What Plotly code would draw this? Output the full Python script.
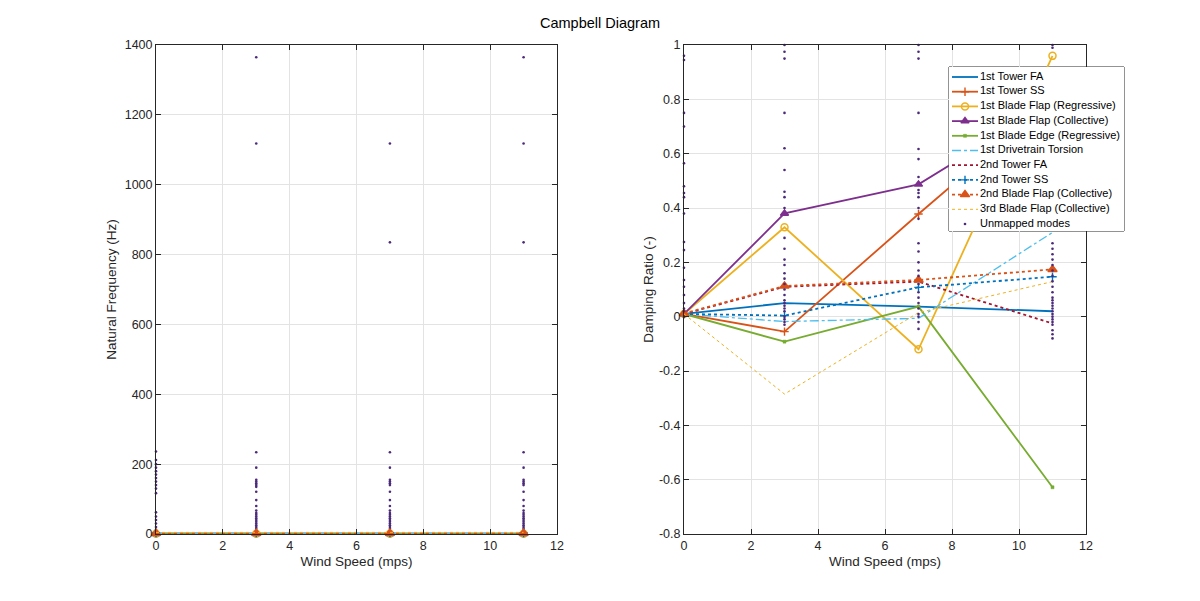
import plotly.graph_objects as go

# ---------------- data ----------------
wind_speed = [0, 3, 7, 11]

mode_names = [
    "1st Tower FA", "1st Tower SS", "1st Blade Flap (Regressive)",
    "1st Blade Flap (Collective)", "1st Blade Edge (Regressive)",
    "1st Drivetrain Torsion", "2nd Tower FA", "2nd Tower SS",
    "2nd Blade Flap (Collective)", "3rd Blade Flap (Collective)",
]
unmapped_name = "Unmapped modes"

# natural frequency (Hz) of mapped modes
freq_tower1_fa = [0.32, 0.32, 0.32, 0.32]
freq_tower1_ss = [0.31, 0.31, 0.31, 0.31]
freq_flap1_reg = [0.67, 0.66, 0.65, 0.64]
freq_flap1_col = [0.70, 0.71, 0.72, 0.74]
freq_edge1_reg = [1.08, 1.07, 1.06, 1.05]
freq_drivetrain = [1.6, 1.6, 1.6, 1.6]
freq_tower2_fa = [2.9, 2.9, 2.9, 2.9]
freq_tower2_ss = [2.9, 2.9, 2.9, 2.9]
freq_flap2_col = [1.9, 1.9, 1.95, 2.0]
freq_flap3_col = [4.5, 4.5, 4.6, 4.6]

# damping ratio (-) of mapped modes
damp_tower1_fa = [0.01, 0.05, 0.037, 0.02]
damp_tower1_ss = [0.01, -0.055, 0.378, 0.80]
damp_flap1_reg = [0.01, 0.329, -0.12, 0.96]
damp_flap1_col = [0.01, 0.38, 0.487, 0.79]
damp_edge1_reg = [0.01, -0.092, 0.037, -0.628]
damp_drivetrain = [0.01, -0.018, -0.006, 0.31]
damp_tower2_fa = [0.01, 0.11, 0.129, -0.025]
damp_tower2_ss = [0.01, 0.004, 0.108, 0.147]
damp_flap2_col = [0.012, 0.113, 0.135, 0.174]
damp_flap3_col = [0.01, -0.285, 0.015, 0.129]

# unmapped modes (per wind speed: frequency and damping)
unmapped_freq_0 = [236, 212, 200, 190, 180, 170, 160, 150, 140, 130, 117, 62, 50, 40, 30, 20, 12, 6, 3]
unmapped_damp_0 = [0.96, 0.945, 0.75, 0.70, 0.565, 0.48, 0.455, 0.44, 0.38, 0.275, 0.245, 0.18, 0.135,
                   0.11, 0.08, 0.05, 0.03, 0.02, 0.0]
unmapped_freq_3 = [1365, 1118, 234, 190, 155, 150, 145, 140, 135, 121, 97, 80, 67, 60, 55, 50, 45, 40,
                   35, 30, 25, 20, 15, 10, 6, 3, 1.5]
unmapped_damp_3 = [1.0, 0.975, 0.95, 0.75, 0.62, 0.54, 0.46, 0.44, 0.40, 0.29, 0.25, 0.21, 0.19, 0.16,
                   0.14, 0.12, 0.10, 0.08, 0.06, 0.05, 0.04, 0.02, 0.0, -0.01, -0.03, -0.02, 0.03]
unmapped_freq_7 = [1118, 835, 234, 190, 155, 150, 145, 140, 121, 97, 80, 67, 60, 55, 50, 45, 40, 35,
                   30, 25, 20, 15, 10, 6, 3, 1.5]
unmapped_damp_7 = [1.0, 0.975, 0.95, 0.75, 0.617, 0.58, 0.514, 0.466, 0.455, 0.44, 0.40, 0.36, 0.27,
                   0.24, 0.20, 0.17, 0.15, 0.12, 0.09, 0.07, 0.05, 0.03, 0.0, -0.02, -0.045, 0.01]
unmapped_freq_11 = [1365, 1118, 835, 234, 190, 155, 150, 145, 140, 121, 97, 80, 67, 60, 55, 50, 45,
                    40, 35, 30, 25, 20, 15, 10, 6, 3]
unmapped_damp_11 = [1.0, 0.99, 0.27, 0.25, 0.23, 0.21, 0.19, 0.17, 0.15, 0.13, 0.11, 0.09, 0.07, 0.06,
                    0.05, 0.04, 0.03, 0.02, 0.01, 0.0, -0.01, -0.02, -0.03, -0.05, -0.065, -0.08]

x_tick_vals = [0, 2, 4, 6, 8, 10, 12]
x_tick_text = ["0", "2", "4", "6", "8", "10", "12"]
freq_tick_vals = [0, 200, 400, 600, 800, 1000, 1200, 1400]
freq_tick_text = ["0", "200", "400", "600", "800", "1000", "1200", "1400"]
damp_tick_vals = [-0.8, -0.6, -0.4, -0.2, 0, 0.2, 0.4, 0.6, 0.8, 1]
damp_tick_text = ["-0.8", "-0.6", "-0.4", "-0.2", "0", "0.2", "0.4", "0.6", "0.8", "1"]

# ---------------- styles ----------------
freq_series = [freq_tower1_fa, freq_tower1_ss, freq_flap1_reg, freq_flap1_col, freq_edge1_reg,
               freq_drivetrain, freq_tower2_fa, freq_tower2_ss, freq_flap2_col, freq_flap3_col]
damp_series = [damp_tower1_fa, damp_tower1_ss, damp_flap1_reg, damp_flap1_col, damp_edge1_reg,
               damp_drivetrain, damp_tower2_fa, damp_tower2_ss, damp_flap2_col, damp_flap3_col]

styles = [
    dict(color="#0072BD", dash="solid", width=1.8, symbol=None),
    dict(color="#D95319", dash="solid", width=1.8, symbol="cross-thin", size=6, mlw=1.4),
    dict(color="#EDB120", dash="solid", width=1.8, symbol="circle-open", size=7, mlw=1.5),
    dict(color="#7E2F8E", dash="solid", width=1.8, symbol="triangle-up", size=7, mlw=1.5),
    dict(color="#77AC30", dash="solid", width=1.8, symbol="square", size=3, mlw=0.5),
    dict(color="#4DBEEE", dash="dashdot", width=1.3, symbol=None),
    dict(color="#A2142F", dash="dot", width=1.8, symbol=None),
    dict(color="#0072BD", dash="dot", width=1.8, symbol="cross-thin", size=6, mlw=1.4),
    dict(color="#D95319", dash="dot", width=1.8, symbol="triangle-up", size=8, mlw=1.5),
    dict(color="#EDB120", dash="dot", width=1.0, symbol=None),
]
unmapped_color = "#4B2A7B"
AX = "#262626"
GRID = "#E3E3E3"
FONT = "Liberation Sans, Arial, Helvetica, sans-serif"

fig = go.Figure()


def add_mode(x, y, st, xa, ya, marker_x=None):
    has_m = st["symbol"] is not None
    fig.add_trace(go.Scatter(
        x=x, y=y, xaxis=xa, yaxis=ya, mode="lines+markers" if (has_m and marker_x is None) else "lines",
        showlegend=False, cliponaxis=False, hoverinfo="skip" if marker_x is not None else None,
        line=dict(color=st["color"], dash=st["dash"], width=st["width"]),
        marker=dict(symbol=st["symbol"], size=st["size"], color=st["color"],
                    line=dict(color=st["color"], width=st["mlw"])) if has_m else None,
    ))
    if has_m and marker_x is not None:
        fig.add_trace(go.Scatter(
            x=[marker_x[0]], y=[marker_x[1]], xaxis=xa, yaxis=ya, mode="markers",
            showlegend=False, cliponaxis=False, hoverinfo="skip",
            marker=dict(symbol=st["symbol"], size=st["size"], color=st["color"],
                        line=dict(color=st["color"], width=st["mlw"]))))


um_groups = [(0, unmapped_freq_0, unmapped_damp_0), (3, unmapped_freq_3, unmapped_damp_3),
             (7, unmapped_freq_7, unmapped_damp_7), (11, unmapped_freq_11, unmapped_damp_11)]
um_x, um_f, um_d = [], [], []
for ws, fl, dl in um_groups:
    um_x += [ws] * len(fl)
    um_f += fl
    um_d += dl


def add_unmapped(xa, ya, yv):
    fig.add_trace(go.Scatter(
        x=um_x, y=yv, xaxis=xa, yaxis=ya, mode="markers",
        showlegend=False, cliponaxis=False,
        marker=dict(symbol="circle", size=2.6, color=unmapped_color),
    ))


# left: frequencies (unmapped dots beneath the mapped modes)
add_unmapped("x", "y", um_f)
for fs, st in zip(freq_series, styles):
    add_mode(wind_speed, fs, st, "x", "y")

# right: damping ratios
for ds, st in zip(damp_series, styles):
    add_mode(wind_speed, ds, st, "x2", "y2")
add_unmapped("x2", "y2", um_d)

# ---------------- custom legend (drawn in an auxiliary axis) ----------------
row0, row_h = 10.0, 14.7
line_x0, line_x1, text_x = 3, 29, 31
line_xm = (line_x0 + line_x1) / 2
all_names = mode_names + [unmapped_name]
rows = [row0 + row_h * i for i in range(len(all_names))]
for i, st in enumerate(styles):
    add_mode([line_x0, line_x1], [rows[i]] * 2, st, "x3", "y3", marker_x=(line_xm, rows[i]))
fig.add_trace(go.Scatter(
    x=[line_xm], y=[rows[-1]], xaxis="x3", yaxis="y3", mode="markers",
    showlegend=False, hoverinfo="skip", marker=dict(size=2.6, color=unmapped_color)))
fig.add_trace(go.Scatter(
    x=[text_x] * len(all_names), y=rows, xaxis="x3", yaxis="y3", mode="text",
    text=all_names, textposition="middle right", showlegend=False, hoverinfo="skip",
    textfont=dict(size=11, color="#000000", family=FONT)))

fig.add_shape(type="rect", xref="x3 domain", yref="y3 domain", x0=0, x1=1, y0=0, y1=1,
              fillcolor="white", line=dict(color=AX, width=1), layer="below")

# ---------------- layout ----------------
H = 601.0
W = 1200.0
ydom = [1 - 534 / H, 1 - 45 / H]


def ax_style(**kw):
    d = dict(showline=True, linecolor=AX, linewidth=1, mirror="allticks", ticks="inside",
             ticklen=5, tickcolor=AX, tickwidth=1, showgrid=True, gridcolor=GRID, gridwidth=1,
             zeroline=False, tickfont=dict(size=12.5, color=AX, family=FONT),
             title_font=dict(size=13.5, color=AX, family=FONT), fixedrange=True,
             automargin=False)
    d.update(kw)
    return d


fig.update_layout(
    width=1200, height=601, margin=dict(l=0, r=0, t=0, b=0, pad=0, autoexpand=False),
    paper_bgcolor="white", plot_bgcolor="white", showlegend=False,
    font=dict(family=FONT, color=AX),
    title=dict(text="Campbell Diagram", x=0.5, xanchor="center", y=1 - 23 / H, yanchor="middle",
               font=dict(size=14.5, color="#000000", family=FONT), automargin=False),
    xaxis=ax_style(domain=[156 / W, 557 / W], range=[0, 12], tickvals=x_tick_vals,
                   ticktext=x_tick_text, anchor="y",
                   title=dict(text="Wind Speed (mps)", standoff=4)),
    yaxis=ax_style(domain=ydom, range=[0, 1400], tickvals=freq_tick_vals,
                   ticktext=freq_tick_text, anchor="x",
                   title=dict(text="Natural Frequency (Hz)", standoff=4)),
    xaxis2=ax_style(domain=[684 / W, 1086 / W], range=[0, 12], tickvals=x_tick_vals,
                    ticktext=x_tick_text, anchor="y2",
                    title=dict(text="Wind Speed (mps)", standoff=4)),
    yaxis2=ax_style(domain=ydom, range=[-0.8, 1], tickvals=damp_tick_vals,
                    ticktext=damp_tick_text, anchor="x2",
                    title=dict(text="Damping Ratio (-)", standoff=2)),
    xaxis3=dict(domain=[949 / W, 1124 / W], range=[0, 175], visible=False, anchor="y3",
                fixedrange=True),
    yaxis3=dict(domain=[1 - 231 / H, 1 - 67 / H], range=[164, 0], visible=False, anchor="x3",
                fixedrange=True),
)

fig.write_html("out.html")
